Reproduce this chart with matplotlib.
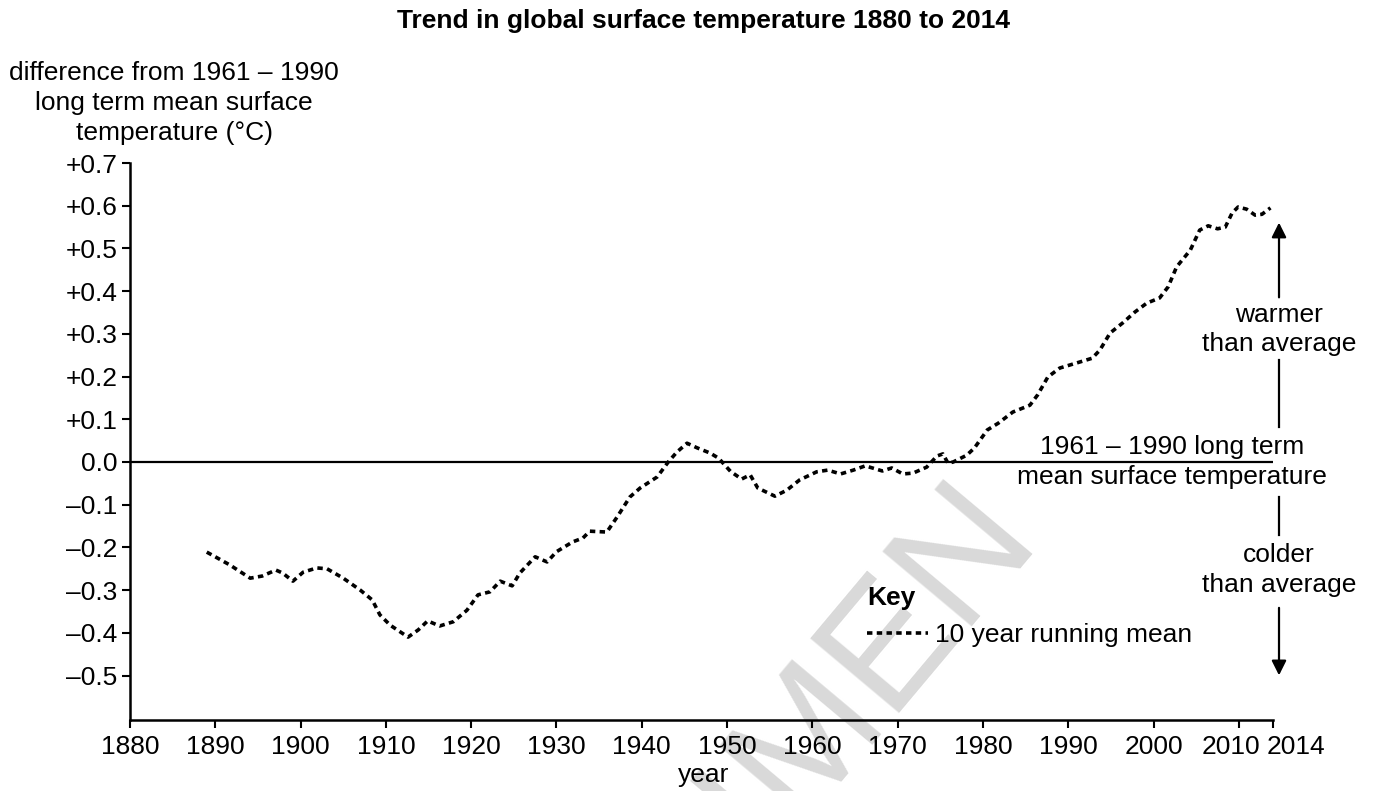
import matplotlib.pyplot as plt
from matplotlib.transforms import ScaledTranslation

plt.rcParams['font.family'] = ['Liberation Sans', 'DejaVu Sans']

# 10 year running mean
years = [1889, 1890, 1891.7, 1894.1, 1895.5, 1897.1, 1897.9, 1899.1, 1900.3, 1901.9,
         1903.1, 1905.0, 1907.0, 1908.4, 1909.3, 1910.5, 1912.6, 1913.8, 1914.9, 1916.3,
         1917.9, 1919.5, 1920.8, 1922.2, 1923.4, 1924.8, 1925.7, 1927.5, 1928.9, 1930.0,
         1931.9, 1933.1, 1933.9, 1935.9, 1937.1, 1938.6, 1939.8, 1941.8, 1943.1, 1944.1,
         1945.3, 1946.5, 1948.0, 1949.0, 1950.4, 1951.7, 1952.7, 1953.6, 1955.6, 1957.0,
         1958.5, 1960.5, 1961.8, 1963.3, 1964.8, 1966.2, 1968.2, 1969.3, 1970.6, 1971.8,
         1973.4, 1974.6, 1975.3, 1975.9, 1976.5, 1978.1, 1979.0, 1980.5, 1981.8, 1983.5,
         1985.5, 1986.4, 1987.6, 1989.0, 1991.0, 1992.8, 1993.7, 1994.9, 1996.4, 1997.8,
         1999.2, 2000.7, 2001.7, 2002.7, 2004.3, 2005.4, 2006.4, 2007.5, 2008.4, 2009.2,
         2009.9, 2010.9, 2011.9, 2012.7, 2013.7]
anomaly = [-0.211, -0.222, -0.241, -0.272, -0.267, -0.253, -0.260, -0.279, -0.258, -0.248,
           -0.250, -0.272, -0.300, -0.323, -0.358, -0.382, -0.410, -0.393, -0.372, -0.384,
           -0.374, -0.347, -0.311, -0.304, -0.279, -0.290, -0.260, -0.222, -0.234, -0.210,
           -0.187, -0.178, -0.162, -0.164, -0.129, -0.082, -0.061, -0.035, 0.000, 0.023,
           0.044, 0.033, 0.021, 0.009, -0.022, -0.040, -0.030, -0.061, -0.080, -0.066,
           -0.042, -0.023, -0.019, -0.028, -0.019, -0.009, -0.021, -0.014, -0.028, -0.026,
           -0.012, 0.014, 0.019, -0.003, 0.000, 0.016, 0.033, 0.075, 0.091, 0.117,
           0.133, 0.157, 0.199, 0.220, 0.232, 0.243, 0.262, 0.302, 0.326, 0.351,
           0.372, 0.384, 0.410, 0.457, 0.496, 0.543, 0.553, 0.546, 0.550, 0.583,
           0.597, 0.592, 0.578, 0.580, 0.595]

x_ticks = [1880, 1890, 1900, 1910, 1920, 1930, 1940, 1950, 1960, 1970, 1980, 1990, 2000, 2010, 2014]
y_ticks = [-0.5, -0.4, -0.3, -0.2, -0.1, 0.0, 0.1, 0.2, 0.3, 0.4, 0.5, 0.6, 0.7]
y_tick_labels = ['\u20130.5', '\u20130.4', '\u20130.3', '\u20130.2', '\u20130.1', '0.0',
                 '+0.1', '+0.2', '+0.3', '+0.4', '+0.5', '+0.6', '+0.7']

FS = 19

fig = plt.figure(figsize=(13.77, 7.91), dpi=100)
ax = fig.add_axes([0.0944, 0.0898, 0.8301, 0.7041])

# watermark behind everything
fig.text(0.7553, 0.321, 'SPECIMEN', rotation=50, rotation_mode='anchor',
         ha='right', va='baseline', fontsize=122, color='#d9d9d9', zorder=-5)

ax.patch.set_alpha(0)
ax.plot(years, anomaly, color='black', linewidth=2.6, linestyle=(0, (1.5, 1.2)),
        label='10 year running mean', zorder=3)
ax.axhline(0, color='black', linewidth=1.6, zorder=2)

ax.set_xlim(1880, 2014)
ax.set_ylim(-0.604, 0.7)
ax.set_xticks(x_ticks)
ax.set_xticklabels([str(x) for x in x_ticks])
ax.set_yticks(y_ticks)
ax.set_yticklabels(y_tick_labels)
for side in ['top', 'right']:
    ax.spines[side].set_visible(False)
for side in ['left', 'bottom']:
    ax.spines[side].set_linewidth(1.8)
ax.tick_params(direction='out', length=6, width=1.5, labelsize=FS)
ax.tick_params(axis='x', pad=5)
ax.tick_params(axis='y', pad=3)

# keep 2010 and 2014 apart like the original
xlabels = ax.get_xticklabels()
xlabels[-2].set_transform(xlabels[-2].get_transform() + ScaledTranslation(-8 / 100, 0, fig.dpi_scale_trans))
xlabels[-1].set_ha('left')
xlabels[-1].set_transform(xlabels[-1].get_transform() + ScaledTranslation(-6 / 100, 0, fig.dpi_scale_trans))

fig.text(0.511, 0.974, 'Trend in global surface temperature 1880 to 2014',
         ha='center', va='center', fontsize=19, fontweight='bold')
fig.text(0.1265, 0.87, 'difference from 1961 \u2013 1990\nlong term mean surface\ntemperature (\u00b0C)',
         ha='center', va='center', fontsize=FS, linespacing=1.3)
fig.text(0.511, 0.02, 'year', ha='center', va='center', fontsize=FS)

# annotations on the right
ax_x = 2014.7
ax.annotate('', xy=(ax_x, 0.567), xytext=(ax_x, 0.379), annotation_clip=False,
            arrowprops=dict(arrowstyle='-|>', color='black', lw=1.6, mutation_scale=22))
ax.plot([ax_x, ax_x], [0.239, 0.082], color='black', lw=1.6, clip_on=False)
ax.plot([ax_x, ax_x], [-0.082, -0.171], color='black', lw=1.6, clip_on=False)
ax.annotate('', xy=(ax_x, -0.506), xytext=(ax_x, -0.335), annotation_clip=False,
            arrowprops=dict(arrowstyle='-|>', color='black', lw=1.6, mutation_scale=22))
ax.text(ax_x, 0.31, 'warmer\nthan average', ha='center', va='center', fontsize=FS,
        linespacing=1.3, clip_on=False)
ax.text(2002.2, 0.0, '1961 \u2013 1990 long term\nmean surface temperature', ha='center',
        va='center', fontsize=FS, linespacing=1.3, clip_on=False)
ax.text(ax_x, -0.253, 'colder\nthan average', ha='center', va='center', fontsize=FS,
        linespacing=1.3, clip_on=False)

ax.legend(loc='upper left', bbox_to_anchor=(0.645, 0.24), title='Key', frameon=False,
          fontsize=FS, handlelength=2.3, handletextpad=0.25, borderpad=0, borderaxespad=0,
          alignment='left', title_fontproperties={'weight': 'bold', 'size': FS})

fig.savefig('out.png', dpi=100)
